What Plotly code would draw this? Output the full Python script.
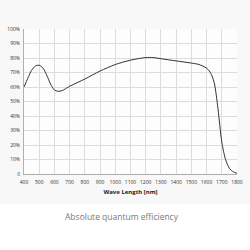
import plotly.graph_objects as go

wavelength = [400, 425, 450, 475, 500, 525, 550, 575, 600, 625, 650, 700, 800, 900, 1000,
              1100, 1200, 1250, 1300, 1400, 1500, 1550, 1600, 1625, 1650, 1675, 1700,
              1725, 1750, 1775, 1800]
efficiency = [60, 66, 71.5, 74.5, 75, 73, 68, 62, 58, 57, 57.5, 60.5, 65.5, 71, 75.5,
              78.5, 80.3, 80.3, 79.5, 78, 76.5, 75.5, 73, 70, 63, 45, 22,
              10, 4, 1.5, 0.5]

x_ticks = list(range(400, 1801, 100))
y_ticks = list(range(0, 101, 10))
y_labels = ["0"] + [f"{v}%" for v in y_ticks[1:]]

fig = go.Figure()
fig.add_trace(go.Scatter(x=wavelength, y=efficiency, mode="lines",
                         line=dict(color="#333333", width=1, shape="spline", smoothing=0.8),
                         hoverinfo="skip"))

fig.update_layout(
    width=250, height=250,
    margin=dict(l=19, r=7, t=29, b=76),
    paper_bgcolor="#f8f8f8",
    plot_bgcolor="#fdfdfd",
    showlegend=False,
    font=dict(family="Open Sans", size=5, color="#333333"),
    xaxis=dict(range=[400, 1800], tickvals=x_ticks, ticktext=[str(v) for v in x_ticks],
               tickangle=0, ticklabelstandoff=3,
               showgrid=True, gridcolor="#dcdcdc", gridwidth=1,
               showline=True, linecolor="#b0b0b0", linewidth=1, zeroline=False,
               ticks="", tickfont=dict(size=5, color="#333333"),
               title=dict(text="<b>Wave Length [nm]</b>", font=dict(size=6, color="#222222"),
                          standoff=5)),
    yaxis=dict(range=[0, 100], tickvals=y_ticks, ticktext=y_labels,
               showgrid=True, gridcolor="#dcdcdc", gridwidth=1,
               showline=True, linecolor="#b0b0b0", linewidth=1, zeroline=False,
               ticks="", tickfont=dict(size=5, color="#333333"), ticklabelstandoff=2),
    shapes=[dict(type="rect", xref="paper", yref="paper", x0=-0.2, x1=1.1,
                 y0=-0.207, y1=-0.6, fillcolor="#ffffff", line=dict(width=0), layer="below")],
    annotations=[dict(text="Absolute quantum efficiency", xref="paper", yref="paper",
                      x=0.46, y=-0.29, xanchor="center", yanchor="middle", showarrow=False,
                      font=dict(family="Open Sans", size=8.5, color="#7a7a7a"))],
)

fig.write_html("out.html")
